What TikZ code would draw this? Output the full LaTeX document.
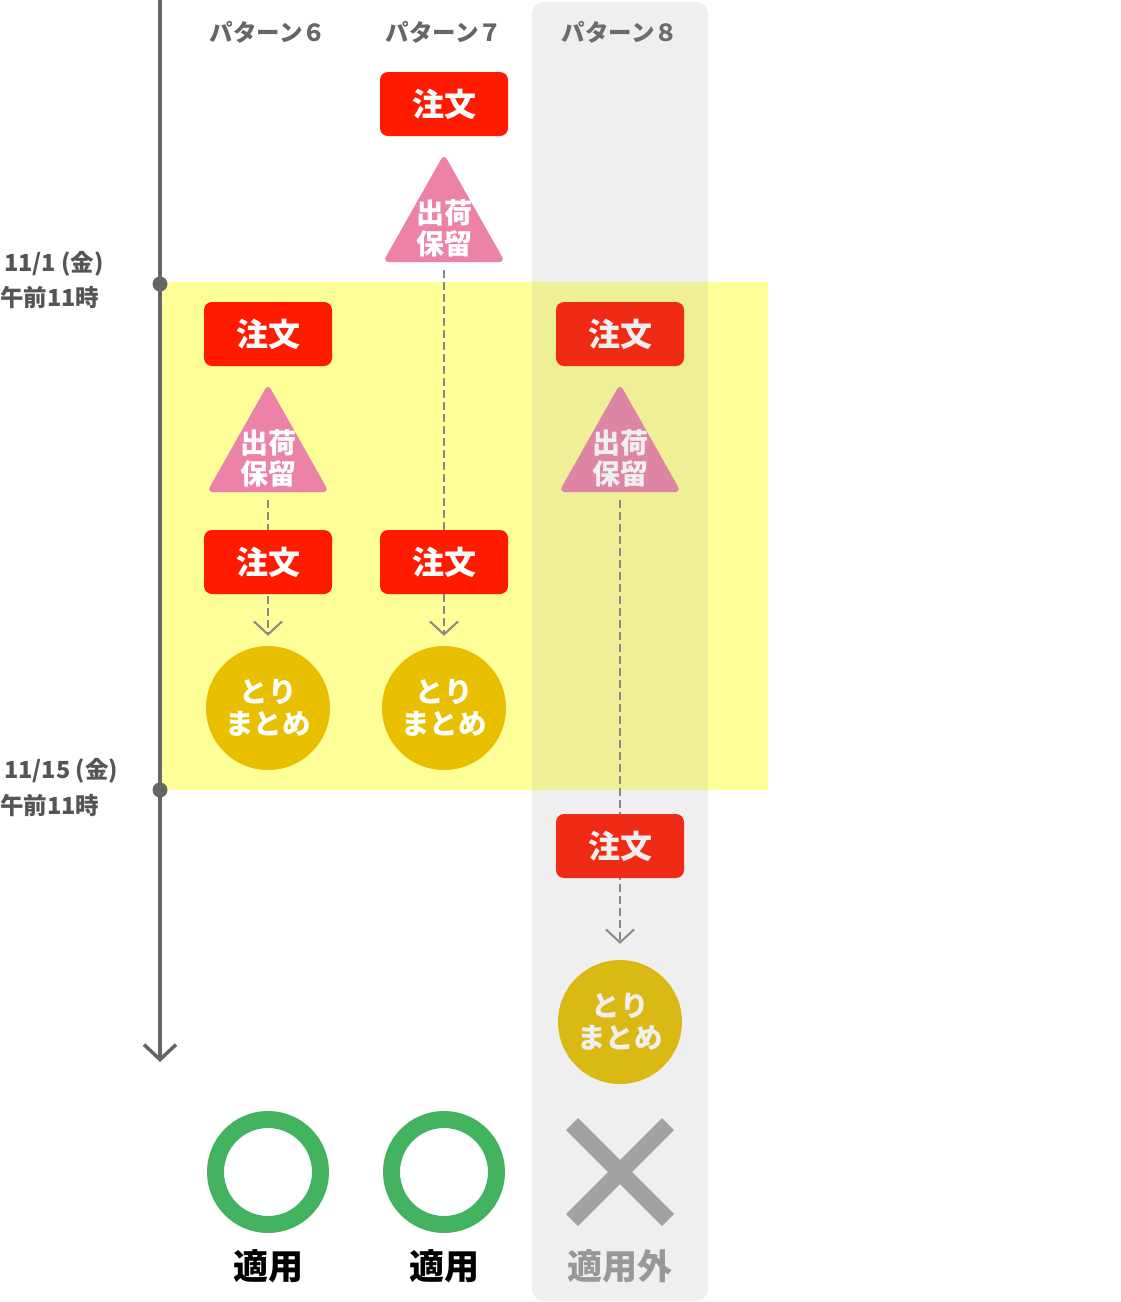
\documentclass[tikz,border=0pt]{standalone}
\usepackage{fontspec}
\setmainfont{Noto Sans CJK JP}
\usetikzlibrary{arrows.meta}
\pgfdeclarelayer{back}
\pgfdeclarelayer{conn}
\pgfdeclarelayer{front}
\pgfsetlayers{back,conn,main,front}
\definecolor{ordred}{HTML}{FF1A00}
\definecolor{holdpink}{HTML}{EC82A8}
\definecolor{mergey}{HTML}{E8C000}
\definecolor{okgreen}{HTML}{43B360}
\definecolor{hlyellow}{HTML}{FFFF99}
\definecolor{axisgray}{HTML}{666666}
\definecolor{dashgray}{HTML}{888888}
\definecolor{panelgray}{RGB}{146,146,146}
\definecolor{ngray}{HTML}{A7A7A7}
\definecolor{ngtext}{HTML}{9A9A9A}
\definecolor{labelgray}{HTML}{555555}
\tikzset{
  orderbox/.style={rectangle, rounded corners=8pt, fill=ordred, minimum width=128pt, minimum height=64pt, inner sep=0pt, text=white, font=\fontsize{32}{32}\selectfont\bfseries},
  mergebox/.style={circle, fill=mergey, minimum size=124pt, inner sep=0pt, text=white, align=center, font=\fontsize{28.5}{32}\selectfont\bfseries},
  holdtext/.style={text=white, align=center, inner sep=0pt, font=\fontsize{28}{31}\selectfont\bfseries},
  holdtri/.style={fill=holdpink, rounded corners=6pt},
  flow/.style={dashgray, line width=2pt, dash pattern=on 8pt off 4pt, -{Straight Barb[length=13pt, width=28pt, line width=2pt]}},
  header/.style={text=axisgray, inner sep=0pt, font=\fontsize{23.5}{23.5}\selectfont\bfseries},
  datelabel/.style={text=labelgray, inner sep=0pt, anchor=west, font=\fontsize{23.5}{23.5}\selectfont\bfseries},
  axisline/.style={axisgray, line width=3.5pt, -{Straight Barb[length=15pt, width=32pt, line width=3.5pt]}},
  axisdot/.style={circle, fill=axisgray, minimum size=15pt, inner sep=0pt},
  okring/.style={circle, draw=okgreen, line width=17pt, minimum size=105pt, inner sep=0pt},
  result/.style={inner sep=0pt, font=\fontsize{35}{35}\selectfont\bfseries},
}
\newcommand{\holdshape}[2]{\fill[holdtri] (#1,#2-4) -- (#1+61,#2+104) -- (#1-61,#2+104) -- cycle;}
\begin{document}
\begin{tikzpicture}[x=1pt,y=-1pt]
\useasboundingbox (0,0) rectangle (1120,1302);
% highlight band
\begin{pgfonlayer}{back}
\fill[hlyellow] (160,282) rectangle (768,790);
\end{pgfonlayer}
% timeline
\coordinate (ttop) at (160,0);
\coordinate (tend) at (160,1062);
\draw[axisline] (ttop) -- (tend);
\node[axisdot] (d1) at (160,284) {};
\node[axisdot] (d2) at (160,790) {};
\node[datelabel] (l1a) at (4,264) {11/1 (金)};
\node[datelabel] (l1b) at (0,298) {午前11時};
\node[datelabel] (l2a) at (4,771) {11/15 (金)};
\node[datelabel] (l2b) at (0,805) {午前11時};
% headers
\node[header] (h6) at (268,32) {パターン６};
\node[header] (h7) at (444,32) {パターン７};
\node[header] (h8) at (620,32) {パターン８};
% pattern 7
\node[orderbox] (o7a) at (444,104) {注文};
\holdshape{444}{158}
\node[holdtext] (t7) at (444,228) {出荷\\保留};
\coordinate (s7) at (444,270);
\node[orderbox] (o7b) at (444,562) {注文};
\node[mergebox] (m7) at (444,708) {とり\\まとめ};
% pattern 6
\node[orderbox] (o6a) at (268,334) {注文};
\holdshape{268}{388}
\node[holdtext] (t6) at (268,458) {出荷\\保留};
\coordinate (s6) at (268,500);
\node[orderbox] (o6b) at (268,562) {注文};
\node[mergebox] (m6) at (268,708) {とり\\まとめ};
% pattern 8
\node[orderbox] (o8a) at (620,334) {注文};
\holdshape{620}{388}
\node[holdtext] (t8) at (620,458) {出荷\\保留};
\coordinate (s8) at (620,500);
\node[orderbox] (o8b) at (620,846) {注文};
\node[mergebox] (m8) at (620,1022) {とり\\まとめ};
% connectors
\begin{pgfonlayer}{conn}
\draw[flow] (s6) -- ([yshift=10pt]m6.north);
\draw[flow] (s7) -- ([yshift=10pt]m7.north);
\draw[flow] (s8) -- ([yshift=16pt]m8.north);
\end{pgfonlayer}
% results
\node[okring] (r6) at (268,1172) {};
\node[okring] (r7) at (444,1172) {};
\draw[ngray, line width=17pt] (572,1124) -- (668,1220);
\draw[ngray, line width=17pt] (668,1124) -- (572,1220);
\node[result] (a6) at (268,1266) {適用};
\node[result] (a7) at (444,1266) {適用};
\node[result, text=ngtext] (a8) at (620,1266) {適用外};
% panel overlay
\begin{pgfonlayer}{front}
\fill[panelgray, opacity=0.147, rounded corners=12pt] (532,2) rectangle (708,1301);
\end{pgfonlayer}
\end{tikzpicture}
\end{document}
